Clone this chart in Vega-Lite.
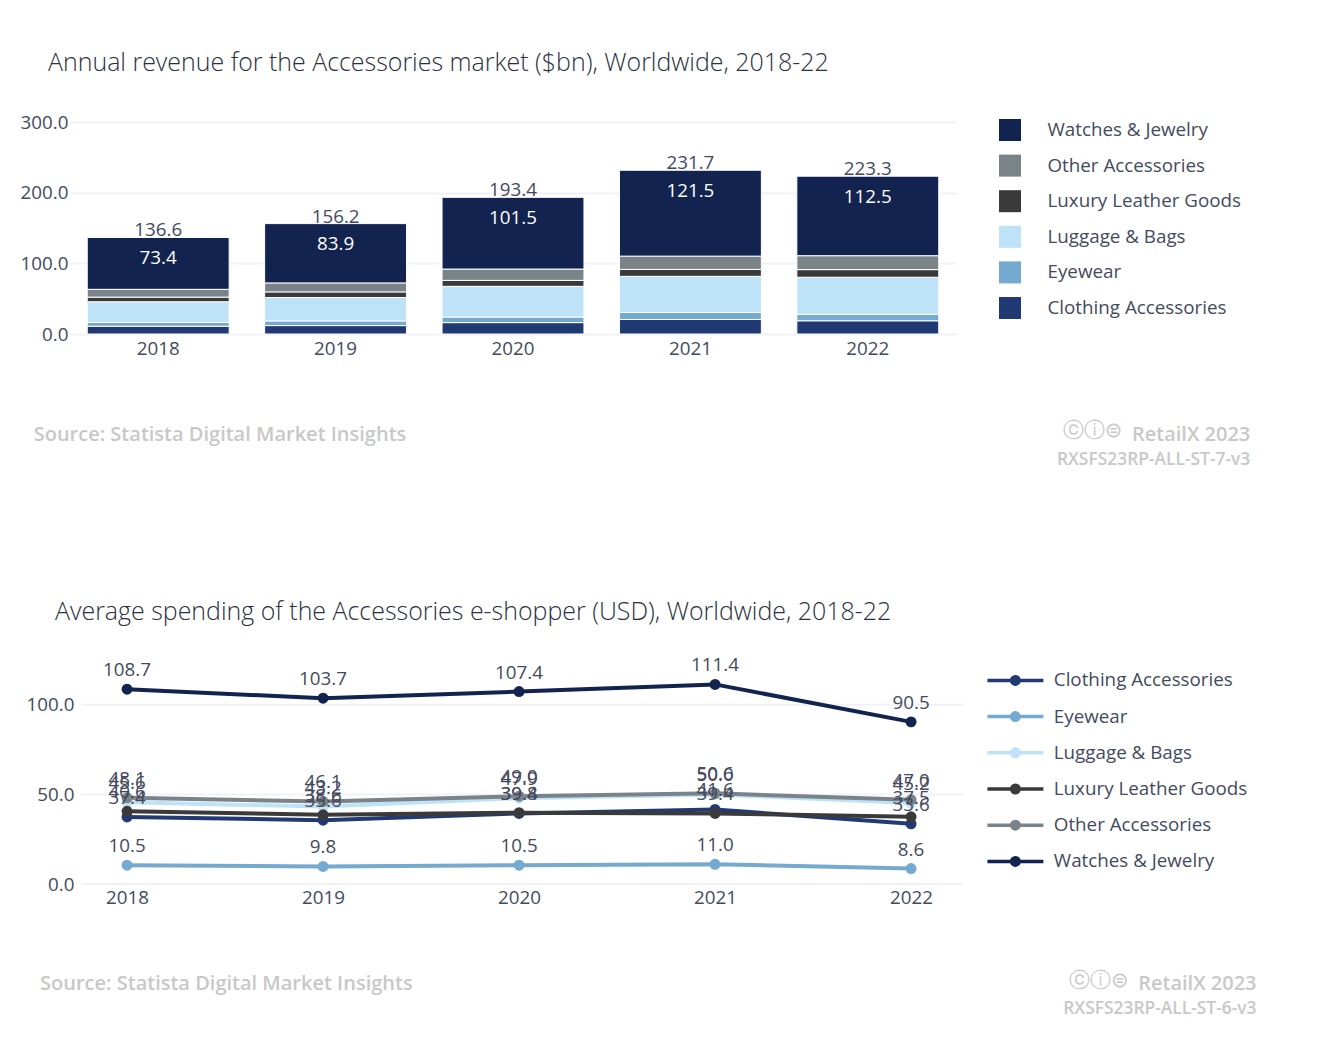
{
"$schema":"https://vega.github.io/schema/vega-lite/v6.json",
"padding":{"left":0,"top":51,"right":0,"bottom":0},
"background":"white",
"spacing":131,
"bounds":"full",
"resolve":{"scale":{"color":"independent"},"legend":{"color":"independent"}},
"config":{"font":"Open Sans","view":{"stroke":null},"title":{"font":"Open Sans","fontWeight":300,"fontSize":24.95,"color":"#2b3040","anchor":"start","frame":"group"}},
"vconcat":[
{"width":885,"height":212,
"title":{"text":"Annual revenue for the Accessories market ($bn), Worldwide, 2018-22","dx":-24,"offset":37},
"layer":[
{"data":{"values":[
{"year":"2018","series":"Clothing Accessories","value":11.0},{"year":"2018","series":"Eyewear","value":5.3},{"year":"2018","series":"Luggage & Bags","value":29.3},{"year":"2018","series":"Luxury Leather Goods","value":6.6},{"year":"2018","series":"Other Accessories","value":11.0},{"year":"2018","series":"Watches & Jewelry","value":73.4},
{"year":"2019","series":"Clothing Accessories","value":11.9},{"year":"2019","series":"Eyewear","value":6.6},{"year":"2019","series":"Luggage & Bags","value":33.1},{"year":"2019","series":"Luxury Leather Goods","value":8.0},{"year":"2019","series":"Other Accessories","value":12.7},{"year":"2019","series":"Watches & Jewelry","value":83.9},
{"year":"2020","series":"Clothing Accessories","value":16.1},{"year":"2020","series":"Eyewear","value":8.0},{"year":"2020","series":"Luggage & Bags","value":43.3},{"year":"2020","series":"Luxury Leather Goods","value":8.5},{"year":"2020","series":"Other Accessories","value":16.0},{"year":"2020","series":"Watches & Jewelry","value":101.5},
{"year":"2021","series":"Clothing Accessories","value":20.6},{"year":"2021","series":"Eyewear","value":9.8},{"year":"2021","series":"Luggage & Bags","value":51.2},{"year":"2021","series":"Luxury Leather Goods","value":9.8},{"year":"2021","series":"Other Accessories","value":18.8},{"year":"2021","series":"Watches & Jewelry","value":121.5},
{"year":"2022","series":"Clothing Accessories","value":18.7},{"year":"2022","series":"Eyewear","value":9.0},{"year":"2022","series":"Luggage & Bags","value":52.6},{"year":"2022","series":"Luxury Leather Goods","value":10.8},{"year":"2022","series":"Other Accessories","value":19.7},{"year":"2022","series":"Watches & Jewelry","value":112.5}
]},
"mark":{"type":"bar","stroke":"white","strokeWidth":1},
"encoding":{
"x":{"field":"year","type":"nominal","title":null,"scale":{"paddingInner":0.2,"paddingOuter":0.1,"range":[-2.5,884.5]},"axis":{"labelAngle":0,"domain":false,"ticks":false,"labelFontSize":18.8,"labelColor":"#444a5e","labelPadding":5,"grid":false}},
"y":{"field":"value","type":"quantitative","stack":"zero","title":null,"scale":{"domain":[0,300],"nice":false},"axis":{"values":[0,100,200,300],"format":".1f","domain":false,"ticks":false,"labelFontSize":18.8,"labelColor":"#444a5e","labelPadding":4,"minExtent":72,"maxExtent":72,"gridColor":"#f1f2f5","gridWidth":2}},
"color":{"field":"series","type":"nominal","title":null,"scale":{"domain":["Watches & Jewelry","Other Accessories","Luxury Leather Goods","Luggage & Bags","Eyewear","Clothing Accessories"],"range":["#12234f","#7a8388","#3a3a3a","#bee3f8","#74a9d0","#223a73"]},
"legend":{"orient":"none","legendX":927,"legendY":-3,"symbolType":"square","symbolSize":484,"symbolStrokeWidth":0,"rowPadding":13.6,"labelFontSize":18.8,"labelColor":"#444a5e","labelOffset":26.5,"labelFont":"Open Sans","labelLimit":300}},
"order":{"field":"series"}
}},
{"data":{"values":[{"year":"2018","watches":136.6,"label":"73.4","total":"136.6"},{"year":"2019","watches":156.2,"label":"83.9","total":"156.2"},{"year":"2020","watches":193.4,"label":"101.5","total":"193.4"},{"year":"2021","watches":231.7,"label":"121.5","total":"231.7"},{"year":"2022","watches":223.3,"label":"112.5","total":"223.3"}]},
"layer":[
{"mark":{"type":"text","fontSize":18.8,"color":"#444a5e","dy":-7},"encoding":{"x":{"field":"year","type":"nominal"},"y":{"field":"watches","type":"quantitative"},"text":{"field":"total"}}},
{"mark":{"type":"text","fontSize":18.8,"color":"white","dy":20.5},"encoding":{"x":{"field":"year","type":"nominal"},"y":{"field":"watches","type":"quantitative"},"text":{"field":"label"}}}
]},
{"data":{"values":[{"year":"2018","v":0,"t":"Source: Statista Digital Market Insights"}]},"mark":{"type":"text","align":"left","fontSize":20,"fontWeight":600,"color":"#c8c8c8","dx":-124.5,"dy":101},"encoding":{"x":{"field":"year","type":"nominal"},"y":{"field":"v","type":"quantitative"},"text":{"field":"t"}}},
{"data":{"values":[{"year":"2022","v":0,"t":"RetailX 2023"}]},"mark":{"type":"text","align":"right","fontSize":20,"fontWeight":600,"color":"#c8c8c8","dx":382.5,"dy":101},"encoding":{"x":{"field":"year","type":"nominal"},"y":{"field":"v","type":"quantitative"},"text":{"field":"t"}}},
{"data":{"values":[{"year":"2022","v":0,"t":"ⓒⓘ⊜"}]},"mark":{"type":"text","align":"right","fontSize":21,"font":"DejaVu Sans","color":"#c8c8c8","dx":254.5,"dy":97},"encoding":{"x":{"field":"year","type":"nominal"},"y":{"field":"v","type":"quantitative"},"text":{"field":"t"}}},
{"data":{"values":[{"year":"2022","v":0,"t":"RXSFS23RP-ALL-ST-7-v3"}]},"mark":{"type":"text","align":"right","fontSize":17.4,"fontWeight":600,"color":"#c8c8c8","dx":382.5,"dy":126},"encoding":{"x":{"field":"year","type":"nominal"},"y":{"field":"v","type":"quantitative"},"text":{"field":"t"}}}
]},
{"width":891,"height":215,
"title":{"text":"Average spending of the Accessories e-shopper (USD), Worldwide, 2018-22","dx":-17,"offset":31},
"data":{"values":[
{"year":2018,"series":"Clothing Accessories","value":37.4},{"year":2019,"series":"Clothing Accessories","value":35.6},{"year":2020,"series":"Clothing Accessories","value":39.4},{"year":2021,"series":"Clothing Accessories","value":41.6},{"year":2022,"series":"Clothing Accessories","value":33.6},
{"year":2018,"series":"Eyewear","value":10.5},{"year":2019,"series":"Eyewear","value":9.8},{"year":2020,"series":"Eyewear","value":10.5},{"year":2021,"series":"Eyewear","value":11.0},{"year":2022,"series":"Eyewear","value":8.6},
{"year":2018,"series":"Luggage & Bags","value":45.6},{"year":2019,"series":"Luggage & Bags","value":43.2},{"year":2020,"series":"Luggage & Bags","value":47.9},{"year":2021,"series":"Luggage & Bags","value":50.0},{"year":2022,"series":"Luggage & Bags","value":45.2},
{"year":2018,"series":"Luxury Leather Goods","value":40.6},{"year":2019,"series":"Luxury Leather Goods","value":38.6},{"year":2020,"series":"Luxury Leather Goods","value":39.8},{"year":2021,"series":"Luxury Leather Goods","value":39.4},{"year":2022,"series":"Luxury Leather Goods","value":37.5},
{"year":2018,"series":"Other Accessories","value":48.1},{"year":2019,"series":"Other Accessories","value":46.1},{"year":2020,"series":"Other Accessories","value":49.0},{"year":2021,"series":"Other Accessories","value":50.6},{"year":2022,"series":"Other Accessories","value":47.0},
{"year":2018,"series":"Watches & Jewelry","value":108.7},{"year":2019,"series":"Watches & Jewelry","value":103.7},{"year":2020,"series":"Watches & Jewelry","value":107.4},{"year":2021,"series":"Watches & Jewelry","value":111.4},{"year":2022,"series":"Watches & Jewelry","value":90.5}
]},
"layer":[
{"data":{"values":[{"tick":0},{"tick":50},{"tick":100}]},"mark":{"type":"rule","color":"#f1f2f5","strokeWidth":2},"encoding":{"x":{"datum":2017.765,"type":"quantitative"},"x2":{"datum":2022.265},"y":{"field":"tick","type":"quantitative"}}},
{"mark":{"type":"line","strokeWidth":4,"point":{"filled":true,"size":120}},
"encoding":{
"x":{"field":"year","type":"quantitative","title":null,"scale":{"domain":[2017.765,2022.265],"nice":false,"zero":false,"range":[9,891]},"axis":{"values":[2018,2019,2020,2021,2022],"format":"d","domain":false,"ticks":false,"grid":false,"labelFontSize":18.8,"labelColor":"#444a5e","labelPadding":4}},
"y":{"field":"value","type":"quantitative","title":null,"scale":{"domain":[0,120],"nice":false},"axis":{"values":[0,50,100],"format":".1f","domain":false,"ticks":false,"grid":false,"labelFontSize":18.8,"labelColor":"#444a5e","labelPadding":-2,"minExtent":72,"maxExtent":72}},
"color":{"field":"series","type":"nominal","title":null,"scale":{"domain":["Clothing Accessories","Eyewear","Luggage & Bags","Luxury Leather Goods","Other Accessories","Watches & Jewelry"],"range":["#223a73","#74a9d0","#bee3f8","#3a3a3a","#7a8388","#12234f"]},
"legend":{"orient":"none","legendX":934,"legendY":2,"symbolType":"M-5.6,0H5.6M0.15,0A0.15,0.15 0 1 1 -0.15,0A0.15,0.15 0 1 1 0.15,0M0.4,0A0.4,0.4 0 1 1 -0.4,0A0.4,0.4 0 1 1 0.4,0M0.75,0A0.75,0.75 0 1 1 -0.75,0A0.75,0.75 0 1 1 0.75,0","symbolSize":100,"symbolStrokeWidth":3.5,"rowPadding":13.2,"labelFontSize":18.8,"labelColor":"#444a5e","labelOffset":29,"labelFont":"Open Sans","labelLimit":300}}
}},
{"mark":{"type":"text","fontSize":18.8,"color":"#444a5e","dy":-19},
"encoding":{"x":{"field":"year","type":"quantitative"},"y":{"field":"value","type":"quantitative"},"text":{"field":"value","type":"quantitative","format":".1f"}}},
{"data":{"values":[{"year":2018,"v":0,"t":"Source: Statista Digital Market Insights"}]},"mark":{"type":"text","align":"left","fontSize":20,"fontWeight":600,"color":"#c8c8c8","dx":-87,"dy":100},"encoding":{"x":{"field":"year","type":"quantitative"},"y":{"field":"v","type":"quantitative"},"text":{"field":"t"}}},
{"data":{"values":[{"year":2022,"v":0,"t":"RetailX 2023"}]},"mark":{"type":"text","align":"right","fontSize":20,"fontWeight":600,"color":"#c8c8c8","dx":345.5,"dy":100},"encoding":{"x":{"field":"year","type":"quantitative"},"y":{"field":"v","type":"quantitative"},"text":{"field":"t"}}},
{"data":{"values":[{"year":2022,"v":0,"t":"ⓒⓘ⊜"}]},"mark":{"type":"text","align":"right","fontSize":21,"font":"DejaVu Sans","color":"#c8c8c8","dx":217.5,"dy":97},"encoding":{"x":{"field":"year","type":"quantitative"},"y":{"field":"v","type":"quantitative"},"text":{"field":"t"}}},
{"data":{"values":[{"year":2022,"v":0,"t":"RXSFS23RP-ALL-ST-6-v3"}]},"mark":{"type":"text","align":"right","fontSize":17.4,"fontWeight":600,"color":"#c8c8c8","dx":345.5,"dy":125},"encoding":{"x":{"field":"year","type":"quantitative"},"y":{"field":"v","type":"quantitative"},"text":{"field":"t"}}}
]}
]
}
